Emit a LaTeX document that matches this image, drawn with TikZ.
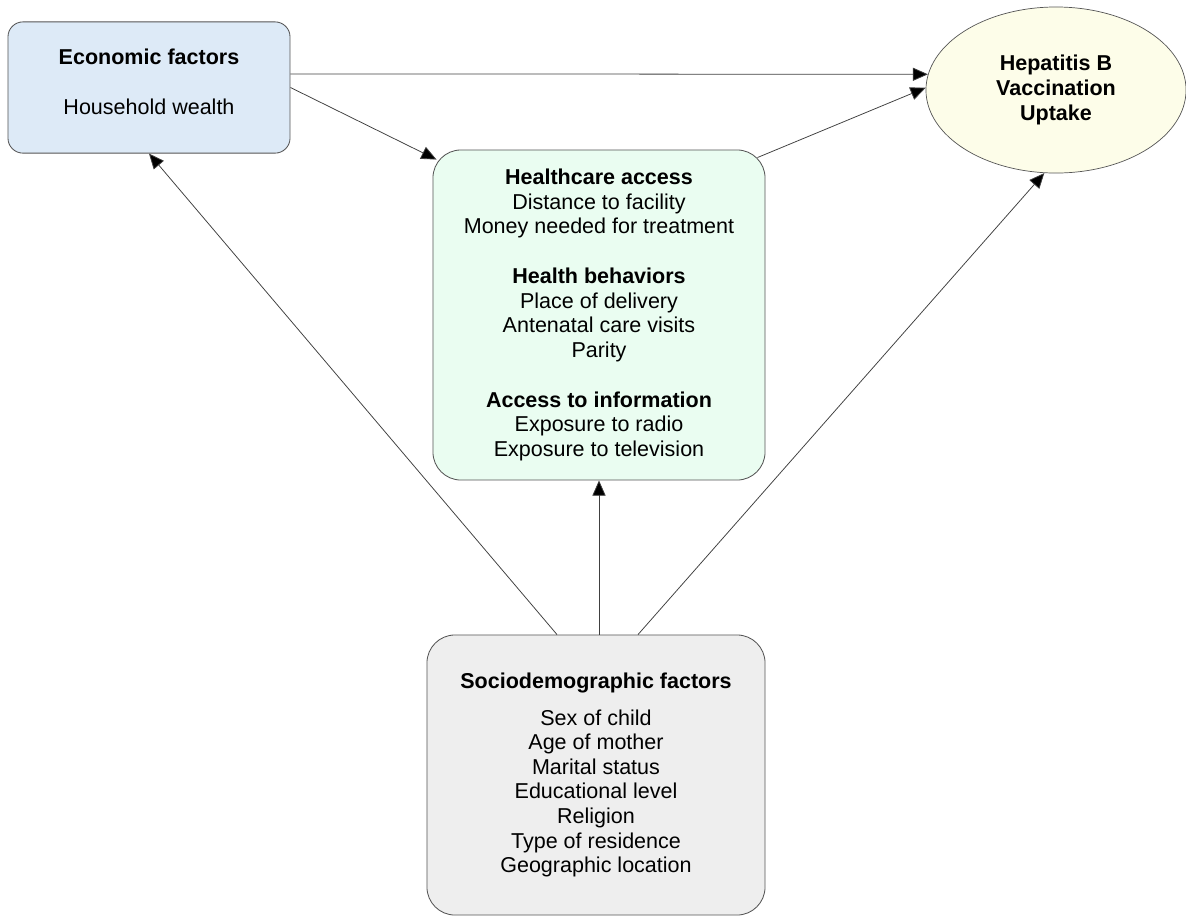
\documentclass[tikz,border=0pt]{standalone}
\usepackage{fontspec}
\setmainfont{Liberation Sans}
\usepackage{xcolor}
\usetikzlibrary{arrows.meta, shapes.geometric}

\definecolor{econfill}{HTML}{DDEAF7}
\definecolor{carefill}{HTML}{EAFDF1}
\definecolor{sociofill}{HTML}{EEEEEE}
\definecolor{uptakefill}{HTML}{FDFDE9}
\definecolor{edgegray}{HTML}{555555}

\tikzset{
  factorbox/.style={draw=edgegray, line width=0.6pt, align=center, inner sep=0pt},
  link/.style={draw=black!75, line width=0.55pt, -{Triangle[length=3.8mm, width=3.3mm, fill=black]}}
}

\begin{document}
\begin{tikzpicture}[x=0.025cm, y=-0.025cm, font=\fontsize{15.3}{17.5}\selectfont]
  \useasboundingbox (0,0) rectangle (1186,917);

  \node[factorbox, fill=econfill, rounded corners=0.375cm, minimum width=7.05cm, minimum height=3.28cm, text depth=8pt]
    (econ) at (149,87.5) {\textbf{Economic factors}\\[17.9pt]Household wealth};
  \node[factorbox, fill=carefill, rounded corners=0.7cm, minimum width=8.3cm, minimum height=8.25cm]
    (care) at (599,315) {\textbf{Healthcare access}\\Distance to facility\\Money needed for treatment\\[17.9pt]
      \textbf{Health behaviors}\\Place of delivery\\Antenatal care visits\\Parity\\[17.9pt]
      \textbf{Access to information}\\Exposure to radio\\Exposure to television};
  \node[factorbox, fill=sociofill, rounded corners=0.7cm, minimum width=8.45cm, minimum height=7cm]
    (socio) at (596,775) {\textbf{Sociodemographic factors}\\[8.7pt]Sex of child\\Age of mother\\Marital status\\
      Educational level\\Religion\\Type of residence\\Geographic location};
  \node[factorbox, ellipse, fill=uptakefill, line width=0.5pt, minimum width=6.5cm, minimum height=4.15cm]
    (uptake) at (1056,90) {\textbf{Hepatitis B}\\\textbf{Vaccination}\\\textbf{Uptake}};

  % paths towards uptake
  \draw[link] ([yshift=0.34cm]econ.east) -- (uptake.173);
  \draw[link] (econ.east) -- ([shift={(4,10)}]care.north west);
  \draw[link] ([shift={(-8,8)}]care.north east) -- (uptake.179);
  % sociodemographic paths
  \draw[link] ([xshift=-0.975cm]socio.north) -- (econ.south);
  \draw[link] (care.south |- socio.north) -- (care.south);
  \draw[link] ([xshift=1.05cm]socio.north) -- (uptake.262);
\end{tikzpicture}
\end{document}
